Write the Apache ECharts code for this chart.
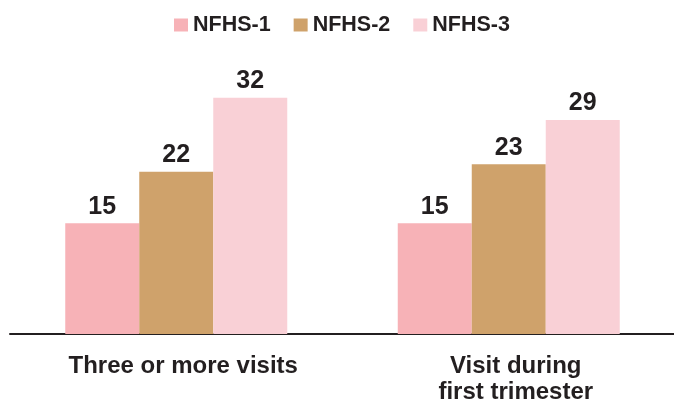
<!DOCTYPE html>
<html>
<head>
<meta charset="utf-8">
<script src="https://cdn.jsdelivr.net/npm/echarts@6/dist/echarts.min.js"></script>
<style>
  html, body { margin: 0; padding: 0; background: #fff; }
  #chart { width: 674px; height: 403px; }
</style>
</head>
<body>
<div id="chart"></div>
<script>
const categories = ['Three or more visits', 'Visit during\nfirst trimester'];
const seriesNames = ['NFHS-1', 'NFHS-2', 'NFHS-3'];
const nfhs1 = [15, 15];
const nfhs2 = [22, 23];
const nfhs3 = [32, 29];

const colors = ['#f7b2b7', '#cfa26b', '#f9d0d6'];
const textColor = '#231f20';
const font = '"Liberation Sans", Arial, sans-serif';

const myChart = echarts.init(document.getElementById('chart'));

const makeSeries = (name, data, color) => ({
  name: name,
  type: 'bar',
  data: data,
  barWidth: 74,
  barGap: '0%',
  itemStyle: { color: color },
  label: {
    show: true,
    position: 'top',
    distance: 4,
    color: textColor,
    fontFamily: font,
    fontWeight: 'bold',
    fontSize: 25
  }
});

const option = {
  animation: false,
  legend: {
    left: 169,
    top: 9,
    itemWidth: 14,
    itemHeight: 13,
    itemGap: 23,
    icon: 'rect',
    textStyle: {
      color: textColor,
      fontFamily: font,
      fontWeight: 'bold',
      fontSize: 21.5
    },
    data: seriesNames
  },
  grid: {
    left: 10,
    width: 665,
    top: 38.8,
    bottom: 69,
    containLabel: false,
    outerBoundsMode: 'none'
  },
  xAxis: {
    type: 'category',
    data: categories,
    axisLine: { lineStyle: { color: textColor, width: 2 } },
    axisTick: { show: false },
    axisLabel: {
      margin: 19,
      color: textColor,
      fontFamily: font,
      fontWeight: 'bold',
      fontSize: 24,
      lineHeight: 26,
      padding: [0, 0, 0, 14]
    }
  },
  yAxis: {
    type: 'value',
    min: 0,
    max: 40,
    show: false,
    splitLine: { show: false }
  },
  series: [
    makeSeries(seriesNames[0], nfhs1, colors[0]),
    makeSeries(seriesNames[1], nfhs2, colors[1]),
    makeSeries(seriesNames[2], nfhs3, colors[2])
  ]
};

myChart.setOption(option);
</script>
</body>
</html>
